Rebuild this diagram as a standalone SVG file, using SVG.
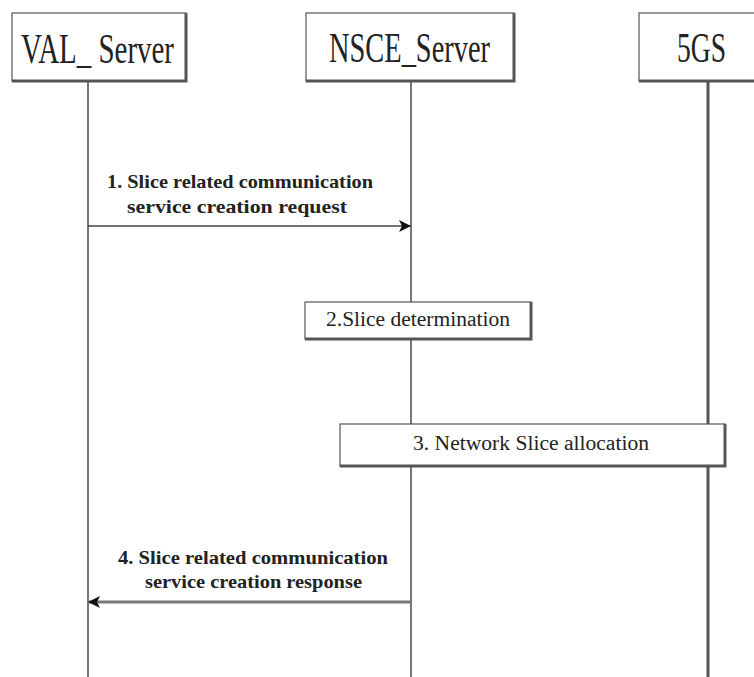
<svg xmlns="http://www.w3.org/2000/svg" width="754" height="677" viewBox="0 0 754 677">
<defs>
<style>
.box{fill:#fff;stroke:#555;stroke-width:1.2}
.shadow{stroke:#555;stroke-width:3;fill:none}
.life{stroke:#777;stroke-width:2;fill:none}
.head{font-family:"Liberation Serif","Times New Roman",serif;font-size:43px;fill:#222}
.step{font-family:"Liberation Serif","Times New Roman",serif;font-size:20px;fill:#222}
.msg{font-family:"Liberation Serif","Times New Roman",serif;font-size:19px;font-weight:bold;fill:#222}
</style>
<marker id="arr" markerWidth="12" markerHeight="12" refX="11" refY="6" orient="auto" markerUnits="userSpaceOnUse">
<path d="M0,0 L12,6 L0,12 L3,6 Z" fill="#111"/>
</marker>
</defs>
<rect width="754" height="677" fill="#fff"/>
<g id="lifelines">
<line class="life" x1="88" y1="81" x2="88" y2="677"/>
<line class="life" x1="411" y1="81" x2="411" y2="677"/>
<line x1="708" y1="81" x2="708" y2="677" stroke="#555" stroke-width="3"/>
</g>
<g id="VAL_Server">
<rect class="box" x="12" y="13" width="174" height="68"/>
<path class="shadow" d="M12,81 H186 V13"/>
<text class="head" x="21" y="63" textLength="153" lengthAdjust="spacingAndGlyphs">VAL_ Server</text>
</g>
<g id="NSCE_Server">
<rect class="box" x="306" y="13" width="208" height="68"/>
<path class="shadow" d="M306,81 H514 V13"/>
<text class="head" x="329" y="62" textLength="161" lengthAdjust="spacingAndGlyphs">NSCE_Server</text>
</g>
<g id="5GS">
<rect class="box" x="639" y="13" width="125" height="68"/>
<path class="shadow" d="M639,81 H760"/>
<text class="head" x="677" y="62" textLength="49" lengthAdjust="spacingAndGlyphs">5GS</text>
</g>
<g id="step2">
<rect class="box" x="305" y="302" width="226" height="37"/>
<path class="shadow" d="M305,339 H531 V302" stroke-width="2"/>
<text class="step" x="326" y="326" textLength="184" lengthAdjust="spacingAndGlyphs">2.Slice determination</text>
</g>
<g id="step3">
<rect class="box" x="340" y="424" width="385" height="42"/>
<path class="shadow" d="M340,466 H725 V424" stroke-width="2"/>
<text class="step" x="413" y="450" font-size="21" textLength="236" lengthAdjust="spacingAndGlyphs">3. Network Slice allocation</text>
</g>
<g id="connectors">
<line x1="88" y1="226" x2="410" y2="226" stroke="#444" stroke-width="1.6" marker-end="url(#arr)"/>
<line x1="410" y1="602" x2="89" y2="602" stroke="#777" stroke-width="3" marker-end="url(#arr)"/>
<text class="msg" x="107" y="188" textLength="266" lengthAdjust="spacingAndGlyphs">1. Slice related communication</text>
<text class="msg" x="127" y="213" textLength="220" lengthAdjust="spacingAndGlyphs">service creation request</text>
<text class="msg" x="118" y="564" textLength="270" lengthAdjust="spacingAndGlyphs">4. Slice related communication</text>
<text class="msg" x="145" y="588" textLength="217" lengthAdjust="spacingAndGlyphs">service creation response</text>
</g>
</svg>
